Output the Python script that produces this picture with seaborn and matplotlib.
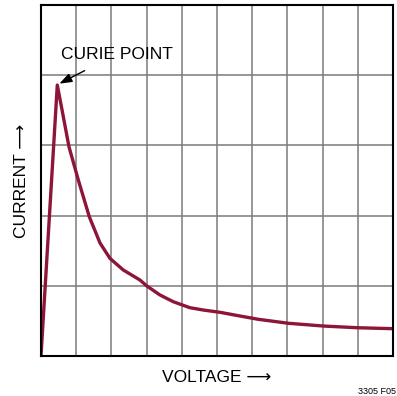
import matplotlib
matplotlib.use("Agg")
import matplotlib.pyplot as plt
import seaborn as sns
import pandas as pd

# Current vs. voltage for a ferroelectric capacitor, peaking at the Curie point
voltage = [0.0, 0.463, 0.616, 0.795, 1.06, 1.372, 1.676, 1.960, 2.338,
           2.81, 3.00, 3.38, 3.76, 4.23, 4.61, 5.09, 5.65, 6.17, 7.03, 8.02,
           8.97, 9.99]
current = [0.0, 3.86, 3.457, 2.98, 2.507, 1.984, 1.61, 1.39, 1.225,
           1.083, 1.00, 0.869, 0.773, 0.688, 0.655, 0.622, 0.570, 0.523, 0.466,
           0.427, 0.403, 0.389]
curie_voltage = 0.463
curie_current = 3.86

df = pd.DataFrame({"voltage": voltage, "current": current})

sns.set_style("white")
plt.rcParams["font.family"] = ["Liberation Sans", "DejaVu Sans"]
plt.rcParams["text.color"] = "black"

fig = plt.figure(figsize=(3.97, 3.96), dpi=100)
ax = fig.add_axes([41 / 397, 1 - 356 / 396, 352 / 397, 351 / 396])

sns.lineplot(data=df, x="voltage", y="current", sort=False, ax=ax,
             color="#8c1538", linewidth=2.4, zorder=3)
ax.lines[0].set_solid_joinstyle("round")
ax.lines[0].set_solid_capstyle("round")

ax.set_xlim(0, 10)
ax.set_ylim(0, 5)
ax.set_xticks(range(0, 11))
ax.set_yticks(range(0, 6))
ax.grid(True, color="#7a7a7a", linewidth=1.1)
ax.tick_params(length=0, labelbottom=False, labelleft=False)
for s in ax.spines.values():
    s.set_color("black")
    s.set_linewidth(1.5)
    s.set_zorder(4)
ax.set_xlabel("")
ax.set_ylabel("")

ax.annotate("CURIE POINT", xy=(curie_voltage + 0.06, curie_current + 0.02),
            xytext=(2.15, 4.3), textcoords="data", ha="center", va="center",
            fontsize=12.5,
            arrowprops=dict(arrowstyle="-|>,head_length=0.6,head_width=0.22",
                            color="black", lw=1.0, shrinkA=9, shrinkB=0))

fig.text(217 / 397, 1 - 378 / 396, "VOLTAGE \u27f6", ha="center",
         va="center", fontsize=12.5)
fig.text(22 / 397, 1 - 181 / 396, "CURRENT \u27f6", ha="center",
         va="center", rotation=90, fontsize=12.5)
fig.text(396 / 397, 1 - 391 / 396, "3305 F05", ha="right", va="center",
         fontsize=6.5)

fig.savefig("out.png", dpi=100)
